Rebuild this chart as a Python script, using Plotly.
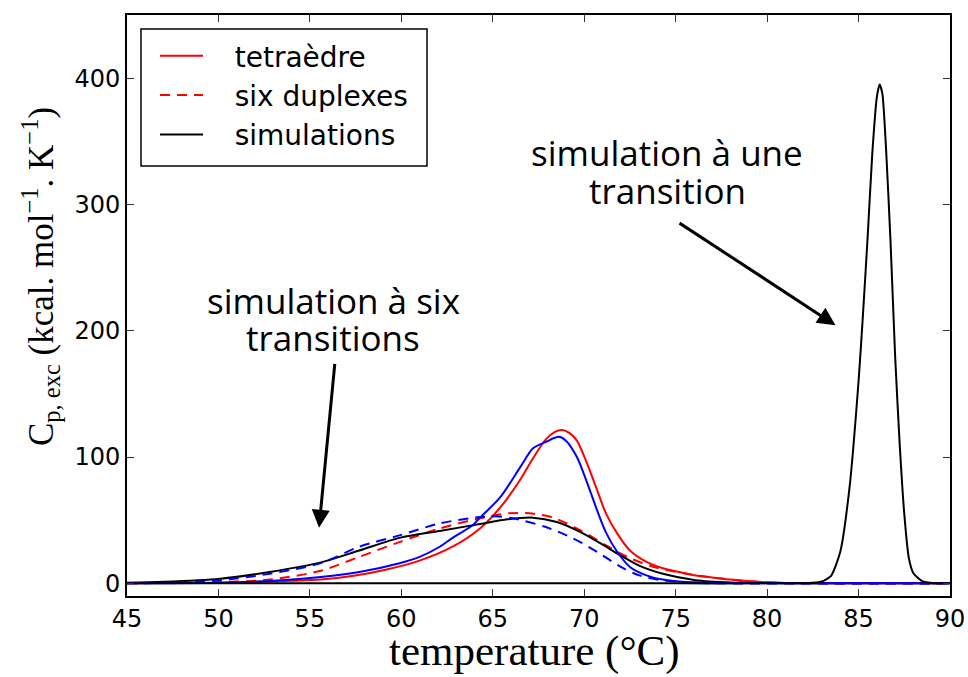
import plotly.graph_objects as go

# ---------------- data ----------------
# tetraèdre (red solid)
tetra_T = [45, 48, 50, 52, 54, 55.6, 57.4, 59.2, 61, 62.8, 64.3, 65.4, 66.5, 67.2, 67.9, 68.4, 68.8,
           69.2, 69.6, 70.1, 70.7, 71.2, 71.8, 72.5, 73.4, 74.3, 75.2, 76, 77, 78, 78.9, 80, 81, 83, 90]
tetra_C = [0, 0.2, 0.5, 1.2, 2, 3, 6, 11, 18, 29, 43.5, 60, 82, 99, 114, 120, 121.5,
           119, 113, 97, 74, 55, 39.6, 26, 17, 12, 9, 6.5, 4.7, 3, 1.8, 0.8, 0.3, 0, 0]

# six duplexes (red dashed)
dup_T = [45, 47.4, 50.1, 52.8, 55.6, 57.7, 59.9, 62.1, 64.3, 65.9, 67, 68.3, 69.8, 71.2, 72.5,
         73.8, 75.6, 77.4, 79, 81, 83, 90]
dup_C = [0, 0.5, 1, 3, 10, 21, 32.7, 43.5, 51.5, 55.5, 55.5, 52, 42, 30, 20,
         13, 7.6, 4, 1.5, 0.3, 0, 0]

# second tetrahedron measurement (blue solid)
tetra2_T = [45, 50, 52.8, 55.6, 57.7, 59.9, 61, 62.1, 62.8, 63.9, 64.3, 65.4, 66.5, 67.2, 67.9,
            68.6, 69.0, 69.6, 70.1, 70.7, 71.2, 71.8, 72.5, 73.4, 74.3, 75.2, 76.1, 78, 80, 90]
tetra2_C = [0, 0.5, 1.8, 5, 9, 16, 21, 29, 36, 46, 52, 68, 92, 107, 112,
            116, 113, 100, 82, 58, 40, 25, 13, 6.3, 3, 1.5, 0.8, 0.2, 0, 0]

# second duplex measurement (blue dashed)
dup2_T = [45, 48, 50.1, 52.8, 55.6, 57.7, 59.9, 62.1, 64.3, 65.3, 66.1, 67.9, 69.4, 70.7, 72,
          73, 74.3, 76, 78, 90]
dup2_C = [0, 0.8, 2.5, 7.6, 16, 29, 38, 47.5, 52.5, 53, 51.5, 44.6, 35.6, 25, 13,
          6.3, 2.4, 0.5, 0, 0]

# simulation with six transitions (black)
sim6_T = [45, 47, 50.1, 52.8, 55.6, 57.7, 59.9, 62.1, 64.3, 65.8, 67.2, 68.5, 69.8, 70.9, 72,
          73, 74.3, 76.1, 78, 80, 82, 90]
sim6_C = [0.5, 1.2, 3.7, 9, 16.6, 26, 36, 41.5, 47, 50.7, 52, 48.6, 40.6, 31.6, 22,
          14, 7.6, 2.5, 0.7, 0.2, 0, 0]

# simulation with one transition (black)
sim1_T = [45, 60, 75, 80, 82.5, 83, 83.5, 84, 84.5, 85, 85.25, 85.5, 85.75, 86, 86.15, 86.3,
          86.5, 86.75, 87, 87.25, 87.5, 87.75, 88, 88.5, 89, 90]
sim1_C = [0, 0, 0, 0, 0.5, 1.5, 6, 25, 75, 160, 215, 275, 340, 385, 395, 388,
          345, 270, 180, 110, 55, 20, 8, 1.5, 0.3, 0]

x_ticks = [45, 50, 55, 60, 65, 70, 75, 80, 85, 90]
y_ticks = [0, 100, 200, 300, 400]

# ---------------- figure ----------------
RED = "#ff0000"
BLUE = "#0000ff"
BLACK = "#000000"
DASH = "10px,7px"
SP = "\u00a0\u00a0\u00a0"

fig = go.Figure()
fig.add_trace(go.Scatter(x=tetra_T, y=tetra_C, mode="lines", name=SP + "tetraèdre",
                         line=dict(color=RED, width=2, shape="spline", smoothing=0.8)))
fig.add_trace(go.Scatter(x=dup_T, y=dup_C, mode="lines", name=SP + "six duplexes",
                         line=dict(color=RED, width=2, dash=DASH, shape="spline", smoothing=0.8)))
fig.add_trace(go.Scatter(x=sim6_T, y=sim6_C, mode="lines", name=SP + "simulations",
                         line=dict(color=BLACK, width=2, shape="spline", smoothing=0.8)))
fig.add_trace(go.Scatter(x=tetra2_T, y=tetra2_C, mode="lines", showlegend=False,
                         line=dict(color=BLUE, width=2, shape="spline", smoothing=0.8)))
fig.add_trace(go.Scatter(x=dup2_T, y=dup2_C, mode="lines", showlegend=False,
                         line=dict(color=BLUE, width=2, dash=DASH, shape="spline", smoothing=0.8)))
fig.add_trace(go.Scatter(x=sim1_T, y=sim1_C, mode="lines", showlegend=False,
                         line=dict(color=BLACK, width=2, shape="spline", smoothing=0.6)))

L, R, T, B = 127, 18, 15, 81
W, H = 968, 677
pw, ph = W - L - R, H - T - B


def px(xp):
    return (xp - L) / pw


def py(yp):
    return (H - B - yp) / ph


axis_common = dict(showline=True, linecolor=BLACK, linewidth=2, mirror="ticks",
                   ticks="inside", ticklen=7, tickwidth=1, tickcolor="#333333",
                   showgrid=False, zeroline=False, automargin=False,
                   tickfont=dict(family="DejaVu Sans", size=24, color=BLACK))

fig.update_layout(
    width=W, height=H, autosize=False,
    margin=dict(l=L, r=R, t=T, b=B, pad=0, autoexpand=False),
    plot_bgcolor="white", paper_bgcolor="white",
    xaxis=dict(range=[45, 90], tickvals=x_ticks, ticktext=[str(v) for v in x_ticks],
               **axis_common),
    yaxis=dict(range=[-10, 450], tickvals=y_ticks, ticktext=[str(v) for v in y_ticks],
               **axis_common),
    showlegend=True,
    legend=dict(x=px(155), y=py(31), xanchor="left", yanchor="top",
                bgcolor="rgba(0,0,0,0)", borderwidth=0, itemwidth=43,
                font=dict(family="DejaVu Sans", size=28, color=BLACK),
                traceorder="normal"),
    shapes=[dict(type="rect", xref="paper", yref="paper",
                 x0=px(141), x1=px(427), y0=py(166), y1=py(29),
                 line=dict(color=BLACK, width=1.5), fillcolor="rgba(0,0,0,0)")],
)

ann_font = dict(family="Open Sans", size=35, color=BLACK)
annotations = [
    dict(x=56.29, y=224, text="simulation à six", showarrow=False, font=ann_font,
         xref="x", yref="y", xanchor="center", yanchor="middle", borderpad=0),
    dict(x=56.29, y=194.5, text="transitions", showarrow=False, font=ann_font,
         xref="x", yref="y", xanchor="center", yanchor="middle", borderpad=0),
    dict(x=74.53, y=341, text="simulation à une", showarrow=False, font=ann_font,
         xref="x", yref="y", xanchor="center", yanchor="middle", borderpad=0),
    dict(x=74.53, y=311, text="transition", showarrow=False, font=ann_font,
         xref="x", yref="y", xanchor="center", yanchor="middle", borderpad=0),
    dict(x=55.5, y=44, ax=56.37, ay=175, xref="x", yref="y", axref="x", ayref="y",
         text="", showarrow=True, arrowhead=2, arrowsize=1.2, arrowwidth=3,
         arrowcolor=BLACK, standoff=0, startstandoff=0),
    dict(x=83.74, y=204.4, ax=75.13, ay=286, xref="x", yref="y", axref="x", ayref="y",
         text="", showarrow=True, arrowhead=2, arrowsize=1.2, arrowwidth=3,
         arrowcolor=BLACK, standoff=0, startstandoff=0),
    dict(x=px(534), y=py(676), xref="paper", yref="paper",
         text="temperature (°C)", showarrow=False, xanchor="center", yanchor="bottom",
         borderpad=0, font=dict(family="Liberation Serif", size=43, color=BLACK)),
    dict(x=px(40), y=py(277), xref="paper", yref="paper",
         text="C<sub>p, exc</sub> (kcal. mol<sup>−1</sup>. K<sup>−1</sup>)",
         textangle=-90, showarrow=False, xanchor="center", yanchor="middle", borderpad=0,
         font=dict(family="Liberation Serif", size=35, color=BLACK)),
]
fig.update_layout(annotations=annotations)

fig.write_html("out.html", config={"responsive": False, "displayModeBar": False},
               post_script="document.body.style.margin='0';document.body.style.padding='0';")
